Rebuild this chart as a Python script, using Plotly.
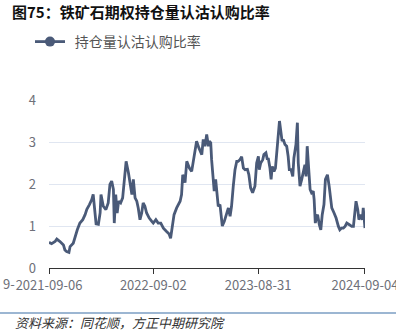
import plotly.graph_objects as go

dates = [
    "2021-09-06", "2021-09-15", "2021-09-27", "2021-10-03", "2021-10-14", "2021-10-26", "2021-10-31",
    "2021-11-06", "2021-11-14", "2021-11-18", "2021-11-29", "2021-12-05", "2021-12-13", "2021-12-22",
    "2022-01-01", "2022-01-09", "2022-01-15", "2022-01-24", "2022-02-01", "2022-02-06", "2022-02-12",
    "2022-02-16", "2022-02-24", "2022-03-02", "2022-03-05", "2022-03-13", "2022-03-22", "2022-03-30",
    "2022-04-05", "2022-04-11", "2022-04-17", "2022-04-20", "2022-04-25", "2022-04-30", "2022-05-05",
    "2022-05-12", "2022-05-19", "2022-05-24", "2022-05-31", "2022-06-08", "2022-06-16", "2022-06-20",
    "2022-06-25", "2022-07-01", "2022-07-07", "2022-07-12", "2022-07-18", "2022-07-24", "2022-07-29",
    "2022-08-04", "2022-08-10", "2022-08-19", "2022-08-28", "2022-09-02", "2022-09-11", "2022-09-19",
    "2022-09-28", "2022-10-07", "2022-10-18", "2022-10-27", "2022-11-01", "2022-11-08", "2022-11-13",
    "2022-11-22", "2022-12-04", "2022-12-09", "2022-12-13", "2022-12-17", "2022-12-21", "2022-12-27",
    "2023-01-05", "2023-01-13", "2023-01-19", "2023-01-24", "2023-01-30", "2023-02-07", "2023-02-17",
    "2023-02-22", "2023-02-28", "2023-03-06", "2023-03-12", "2023-03-15", "2023-03-20", "2023-03-23",
    "2023-03-29", "2023-04-01", "2023-04-06", "2023-04-10", "2023-04-15", "2023-04-21", "2023-04-24",
    "2023-04-29", "2023-05-06", "2023-05-14", "2023-05-20", "2023-05-26", "2023-05-31", "2023-06-06",
    "2023-06-12", "2023-06-18", "2023-06-23", "2023-06-29", "2023-07-05", "2023-07-11", "2023-07-17",
    "2023-07-25", "2023-07-30", "2023-08-05", "2023-08-12", "2023-08-20", "2023-08-26", "2023-09-01",
    "2023-09-04", "2023-09-09", "2023-09-16", "2023-09-20", "2023-09-27", "2023-10-02", "2023-10-05",
    "2023-10-11", "2023-10-15", "2023-10-19", "2023-10-25", "2023-10-30", "2023-11-04", "2023-11-07",
    "2023-11-13", "2023-11-17", "2023-11-22", "2023-11-26", "2023-12-02", "2023-12-08", "2023-12-13",
    "2023-12-17", "2023-12-23", "2023-12-29", "2024-01-02", "2024-01-09", "2024-01-14", "2024-01-17",
    "2024-01-23", "2024-01-29", "2024-02-03", "2024-02-09", "2024-02-13", "2024-02-17", "2024-02-22",
    "2024-02-27", "2024-03-03", "2024-03-09", "2024-03-12", "2024-03-16", "2024-03-21", "2024-03-24",
    "2024-03-30", "2024-04-04", "2024-04-09", "2024-04-15", "2024-04-20", "2024-04-27", "2024-05-03",
    "2024-05-12", "2024-05-20", "2024-05-27", "2024-06-04", "2024-06-09", "2024-06-15", "2024-06-21",
    "2024-06-27", "2024-07-03", "2024-07-12", "2024-07-20", "2024-07-26", "2024-07-31", "2024-08-04",
    "2024-08-10", "2024-08-14", "2024-08-20", "2024-08-26", "2024-08-29", "2024-09-04",
]

ratio = [
    0.61, 0.58, 0.63, 0.69, 0.63, 0.55, 0.43,
    0.39, 0.37, 0.51, 0.59, 0.75, 0.91, 1.07,
    1.15, 1.27, 1.40, 1.51, 1.63, 1.75, 1.23,
    1.05, 1.04, 1.31, 1.75, 1.47, 1.39, 1.55,
    1.99, 2.07, 1.87, 1.07, 1.75, 1.31, 1.59,
    1.55, 1.67, 2.11, 2.54, 2.27, 1.83, 1.75,
    2.11, 1.67, 1.59, 1.43, 1.15, 1.31, 1.55,
    1.47, 1.31, 1.19, 1.11, 1.07, 1.15, 1.07,
    1.07, 0.95, 0.87, 0.81, 0.71, 0.99, 1.27,
    1.43, 1.59, 1.75, 2.22, 2.14, 2.03, 2.54,
    2.38, 2.30, 2.54, 2.78, 3.02, 2.86, 2.70,
    3.06, 2.90, 3.18, 2.90, 3.02, 2.98, 2.58,
    2.11, 1.83, 2.11, 1.87, 1.47, 1.51, 1.27,
    1.00, 1.11, 1.31, 1.43, 1.23, 1.47, 1.95,
    2.34, 2.54, 2.54, 2.58, 2.65, 2.38, 2.34,
    2.35, 2.22, 1.91, 1.79, 1.95, 2.50, 2.66,
    2.34, 2.50, 2.58, 2.70, 2.74, 2.58, 2.62,
    2.38, 2.11, 2.42, 2.30, 2.38, 2.70, 3.02,
    3.50, 3.30, 3.02, 3.06, 2.94, 2.90, 2.66,
    2.34, 2.34, 2.18, 2.62, 2.94, 3.46, 2.50,
    1.95, 2.11, 2.30, 2.46, 2.18, 2.90, 2.38,
    1.87, 1.79, 1.83, 1.63, 1.07, 1.23, 1.27,
    1.03, 0.91, 1.27, 1.51, 2.11, 2.22, 1.95,
    1.43, 1.31, 1.19, 0.99, 0.91, 0.95, 0.95,
    0.99, 1.07, 1.03, 0.99, 0.99, 1.31, 1.59,
    1.39, 1.15, 1.27, 1.15, 1.43, 0.95,
]

x_ticks = ["2021-09-06", "2022-09-02", "2023-08-31", "2024-09-04"]
y_ticks = [0, 1, 2, 3, 4]

title_text = "图75：铁矿石期权持仓量认沽认购比率"
series_name = "持仓量认沽认购比率"
source_text = "资料来源：同花顺，方正中期研究院"

FONT = "Noto Sans CJK SC"
LINE_COLOR = "#4a5a78"
GRAY = "#6e7079"

fig = go.Figure()
fig.add_trace(go.Scatter(
    x=dates, y=ratio, mode="lines", name=series_name,
    line=dict(color=LINE_COLOR, width=2.8),
    showlegend=False, cliponaxis=False,
))
# legend entry (line with circle marker)
fig.add_trace(go.Scatter(
    x=[None], y=[None], mode="lines+markers", name="\u2004" + series_name,
    line=dict(color=LINE_COLOR, width=2.8),
    marker=dict(color=LINE_COLOR, size=10, symbol="circle"),
    showlegend=True,
))

fig.update_layout(
    width=396, height=333,
    margin=dict(l=49, r=31, t=100, b=65, autoexpand=False),
    paper_bgcolor="white", plot_bgcolor="white",
    font=dict(family=FONT, color=GRAY, size=13),
    title=dict(
        text="<b>" + title_text + "</b>",
        x=12 / 396, xref="container", xanchor="left",
        y=1 - 13 / 333, yref="container", yanchor="middle",
        font=dict(family=FONT, size=15, color="#111111"),
    ),
    showlegend=True,
    legend=dict(
        orientation="h",
        x=(30 - 49) / 316, xanchor="left",
        y=1 + (100 - 42) / 168, yanchor="middle",
        font=dict(family=FONT, size=14, color="#555555"),
        itemwidth=30,
        bgcolor="rgba(0,0,0,0)",
    ),
    xaxis=dict(
        type="date",
        range=["2021-09-06", "2024-09-04 02:00"],
        tickvals=x_ticks,
        ticktext=x_ticks,
        showgrid=False,
        showline=True, linecolor="#333333", linewidth=1,
        ticks="outside", ticklen=5, tickcolor="#333333",
        tickfont=dict(family=FONT, size=13, color=GRAY),
        ticklabeloverflow="allow",
        automargin=False,
        zeroline=False,
        fixedrange=True,
    ),
    yaxis=dict(
        range=[0, 4],
        tickvals=y_ticks,
        showgrid=True, gridcolor="#e0e6f1", gridwidth=1,
        showline=False, zeroline=False,
        ticks="", ticklabelstandoff=12,
        tickfont=dict(family=FONT, size=13, color=GRAY),
        automargin=False,
        fixedrange=True,
    ),
    shapes=[
        dict(type="line", xref="paper", yref="paper",
             x0=-49 / 316, x1=347 / 316,
             y0=(268 - 313) / 168, y1=(268 - 313) / 168,
             line=dict(color="#3a6ea5", width=1.2)),
    ],
    annotations=[
        dict(text="<i>" + source_text + "</i>", xref="paper", yref="paper",
             x=(13 - 49) / 316, xanchor="left",
             y=(268 - 322) / 168, yanchor="middle",
             showarrow=False,
             font=dict(family=FONT, size=13, color="#333333")),
        dict(text="9-", xref="paper", yref="paper",
             x=(17 - 49) / 316, xanchor="right",
             y=(268 - 283) / 168, yanchor="middle",
             showarrow=False,
             font=dict(family=FONT, size=13, color=GRAY)),
    ],
)

fig.write_html("out.html")
